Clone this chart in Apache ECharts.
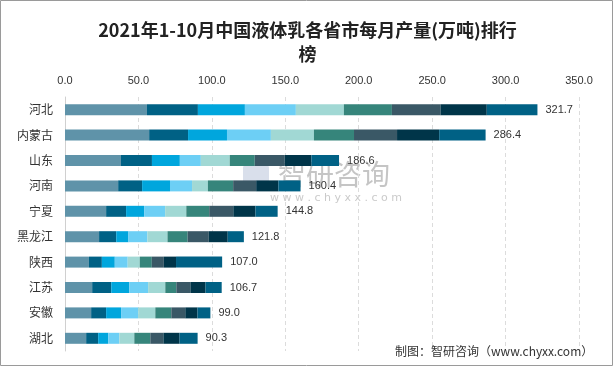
<!DOCTYPE html>
<html><head><meta charset="utf-8">
<script src="https://cdn.jsdelivr.net/npm/echarts@6/dist/echarts.min.js"></script>
<style>html,body{margin:0;padding:0;background:#fff}#c{width:615px;height:368px}</style>
</head><body><div id="c"></div>
<script>
var provinces = ['河北','内蒙古','山东','河南','宁夏','黑龙江','陕西','江苏','安徽','湖北'];
var months = ['1-2月','3月','4月','5月','6月','7月','8月','9月','10月'];
var totals = [321.7,286.4,186.6,160.4,144.8,121.8,107.0,106.7,99.0,90.3];
// rows: province; columns: month
var hebei    = [55.8,34.7,32.0,34.7,32.7,32.7,33.1,31.5,34.5];
var neimenggu= [57.3,26.5,26.5,29.9,29.3,27.3,29.3,28.7,31.6];
var shandong = [38.1,21.1,19.0,14.3,19.7,17.0,20.4,18.2,18.8];
var henan    = [36.2,16.3,19.0,15.0,10.8,17.2,15.7,15.1,15.1];
var ningxia  = [28.0,13.6,12.3,14.3,14.4,15.6,16.4,15.1,15.1];
var heilongjiang = [23.2,11.7,8.3,12.9,13.7,13.7,14.4,12.9,11.0];
var shaanxi  = [16.3,8.8,8.8,8.8,8.2,8.2,8.2,8.3,31.4];
var jiangsu  = [18.5,13.0,12.2,12.9,11.7,7.5,9.6,10.3,11.0];
var anhui    = [17.8,10.2,10.2,11.6,11.7,10.9,9.5,8.3,8.8];
var hubei    = [14.4,8.2,6.9,7.5,10.2,10.9,8.9,11.0,12.3];
var xTicks = [0,50,100,150,200,250,300,350];

var rows = [hebei,neimenggu,shandong,henan,ningxia,heilongjiang,shaanxi,jiangsu,anhui,hubei];
var colors = ['#5f93a9','#006185','#00a6dd','#6dcff5','#a1d8d4','#36857b','#3a5866','#003549','#006185'];

var series = months.map(function(m, j){
  var s = {
    name: m, type: 'bar', stack: 'total', barWidth: 11,
    itemStyle: {color: colors[j]},
    data: rows.map(function(r){ return r[j]; })
  };
  if (j === months.length - 1) {
    s.label = {show: true, position: 'right', distance: 8, color: '#333', fontSize: 11,
      fontFamily: 'Liberation Sans, Arial',
      formatter: function(p){ return totals[p.dataIndex].toFixed(1); }};
  }
  return s;
});

var chart = echarts.init(document.getElementById('c'));
chart.setOption({
  animation: false,
  backgroundColor: '#fff',
  title: {
    text: '2021年1-10月中国液体乳各省市每月产量(万吨)排行\n榜',
    left: 'center', top: 13,
    textStyle: {fontSize: 18, fontWeight: 'bold', color: '#222', lineHeight: 24,
      fontFamily: 'Noto Sans CJK SC', align: 'center'}
  },
  grid: {left: 65, right: 36, top: 97, bottom: 17, containLabel: false},
  xAxis: {
    type: 'value', position: 'top', min: 0, max: 350, interval: 50,
    axisLine: {show: false}, axisTick: {show: false},
    axisLabel: {color: '#333', fontSize: 11, fontFamily: 'Liberation Sans, Arial',
      formatter: function(v){ return v.toFixed(1); }, margin: 11},
    splitLine: {show: true, lineStyle: {color: '#dcdcdc', type: [4,3]}}
  },
  yAxis: {
    type: 'category', inverse: true, data: provinces,
    axisLine: {show: true, lineStyle: {color: '#d0d0d0'}},
    axisTick: {show: false},
    axisLabel: {color: '#333', fontSize: 12, margin: 12, fontFamily: 'Noto Sans CJK SC'}
  },
  series: series,
  graphic: [
    {type: 'rect', z: 100, shape: {x: 0.5, y: 0.5, width: 612, height: 365},
      style: {fill: 'none', stroke: '#9a9a9a', lineWidth: 1}},
    {type: 'text', z: 50, left: 395, top: 345,
      style: {text: '制图：智研咨询（www.chyxx.com）', fontSize: 12, fill: '#333',
        fontFamily: 'Noto Sans CJK SC'}},
    {type: 'text', z: 0, left: 278, top: 160,
      style: {text: '智研咨询', fontSize: 28, fill: 'rgba(150,150,150,0.55)',
        fontFamily: 'Noto Sans CJK SC'}},
    {type: 'text', z: 0, left: 270, top: 193,
      style: {text: 'w w w . c h y x x . c o m', fontSize: 11, fill: 'rgba(150,150,150,0.5)',
        fontFamily: 'DejaVu Sans'}},
    {type: 'rect', z: 0, shape: {x: 243, y: 165, width: 26, height: 26, r: 3},
      style: {fill: 'rgba(170,185,210,0.45)'}}
  ]
});
</script>
</body></html>
